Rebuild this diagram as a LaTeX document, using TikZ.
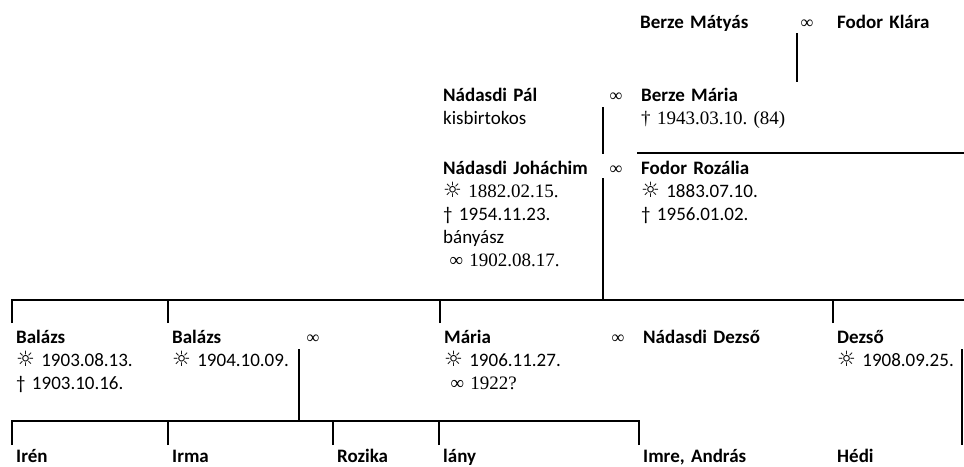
\documentclass[tikz,border=0pt]{standalone}
\usepackage{fontspec}
\setmainfont{Carlito}
\newfontfamily\tms{Liberation Serif}
\newfontfamily\sym{DejaVu Sans}
\newcommand{\sun}{{\sym\fontsize{21}{21}\selectfont ☼}}
\frenchspacing

\begin{document}
\begin{tikzpicture}[x=1pt,y=-1pt,
    person/.style={anchor=base west,inner sep=0pt,text width=190pt,align=left,font=\fontsize{19}{23}\selectfont},
    wed/.style={anchor=base,inner sep=0pt,font=\tms\fontsize{18}{23}\selectfont},
    rail/.style={line width=2.7pt}]
    \useasboundingbox (0,0) rectangle (964,466);
    % grandparents
    \node[person] (matyas) at (640,28) {\textbf{Berze Mátyás}};
    \node[wed] (w1) at (807,28) {∞};
    \node[person] (klara) at (837,28) {\textbf{Fodor Klára}};
    \node[person] (pal) at (443,101) {\textbf{Nádasdi Pál}\\ kisbirtokos};
    \node[wed] (w2) at (616,101) {∞};
    \node[person] (maria) at (641,101) {\textbf{Berze Mária}\\ {\tms † 1943.03.10. (84)}};
    % parents
    \node[person] (johachim) at (443,174) {\textbf{Nádasdi Joháchim}\\ \sun\ {\tms 1882.02.15.}\\ † 1954.11.23.\\ bányász\\ \ {\tms ∞ 1902.08.17.}};
    \node[wed] (w3) at (616,174) {∞};
    \node[person] (rozalia) at (641,174) {\textbf{Fodor Rozália}\\ \sun\ 1883.07.10.\\ † 1956.01.02.};
    % children
    \node[person] (balazsA) at (16,343) {\textbf{Balázs}\\ \sun\ 1903.08.13.\\ † 1903.10.16.};
    \node[person] (balazsB) at (172,343) {\textbf{Balázs}\\ \sun\ 1904.10.09.};
    \node[wed] (w4) at (313,343) {∞};
    \node[person] (mariaN) at (444,343) {\textbf{Mária}\\ \sun\ 1906.11.27.\\ \ {\tms ∞ 1922?}};
    \node[wed] (w5) at (618,343) {∞};
    \node[person] (dezsoN) at (643,343) {\textbf{Nádasdi Dezső}};
    \node[person] (dezso) at (837,343) {\textbf{Dezső}\\ \sun\ 1908.09.25.};
    % grandchildren
    \node[person] (iren) at (16,462) {\textbf{Irén}};
    \node[person] (irma) at (172,462) {\textbf{Irma}};
    \node[person] (rozika) at (337,462) {\textbf{Rozika}};
    \node[person] (lany) at (443,462) {\textbf{lány}};
    \node[person] (imre) at (643,462) {\textbf{Imre, András}};
    \node[person] (hedi) at (837,462) {\textbf{Hédi}};
    % lines
    \coordinate (g1a) at (797,33);
    \coordinate (g1b) at (797,82);
    \coordinate (g2a) at (603,107);
    \coordinate (g2b) at (603,154);
    \coordinate (g2c) at (637,153);
    \coordinate (g2d) at (964,153);
    \coordinate (g3a) at (603,178);
    \coordinate (g3b) at (603,300);
    \coordinate (g3c) at (964,300);
    \coordinate (g4a) at (299,349);
    \coordinate (g4b) at (299,421);
    \coordinate (g5a) at (962,349);
    \coordinate (g5b) at (962,445);
    \draw[rail] (g1a) -- (g1b);
    \draw[rail] (g2a) -- (g2b);
    \draw[rail] (g2c) -- (g2d);
    \draw[rail] (g3a) -- (g3b) -- (g3c);
    \foreach \kid in {balazsA,balazsB,mariaN,dezso}
      \draw[rail] ([shift={(-4,-20)}]\kid.base west) |- (g3b);
    \draw[rail] (g4a) -- (g4b);
    \foreach \kid in {iren,irma,rozika,lany,imre}
      \draw[rail] ([shift={(-4,-17)}]\kid.base west) |- (g4b);
    \draw[rail] (g5a) -- (g5b);
\end{tikzpicture}
\end{document}
